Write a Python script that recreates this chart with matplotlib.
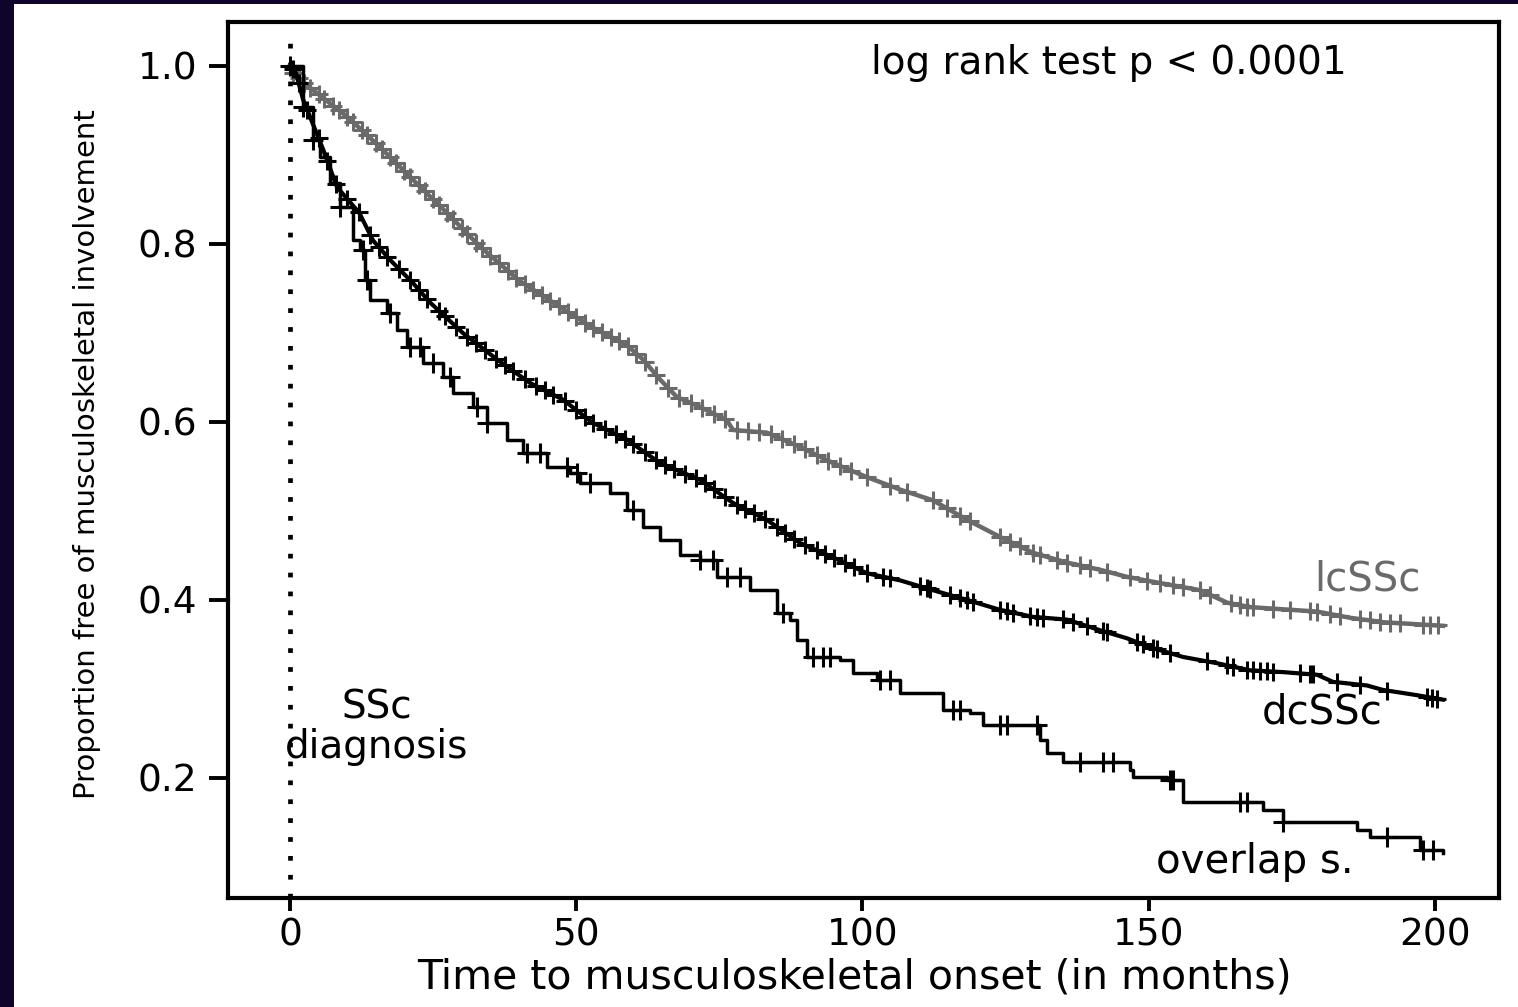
import numpy as np
import matplotlib.pyplot as plt
from matplotlib.patches import Rectangle

# Kaplan-Meier curves (time in months, proportion free)
lc_time = [0, 0.5, 4.0, 10.0, 15.7, 21.5, 27.4, 33.2, 40.0, 47.2, 52.9, 58.9,
           61.7, 64.6, 67.6, 71.6, 76.3, 77.4, 83.3, 89.1, 94.8, 100.8, 106.6, 112.3,
           118.3, 124.0, 129.8, 135.7, 141.5, 146.2, 152.0, 159.0, 163.7, 167.7,
           179.4, 185.2, 191.0, 201.4]
lc_surv = [1.0, 0.992, 0.973, 0.943, 0.909, 0.872, 0.835, 0.797, 0.759, 0.729,
           0.706, 0.686, 0.670, 0.648, 0.628, 0.617, 0.602, 0.591, 0.588, 0.572, 0.554,
           0.538, 0.524, 0.512, 0.490, 0.471, 0.453, 0.442, 0.434, 0.426, 0.419, 0.411,
           0.397, 0.392, 0.387, 0.380, 0.375, 0.371]
lc_cens = [0.5, 1.5, 2.5, 3.5, 5, 6, 7.5, 8.5, 10, 11, 12.5, 13.5, 15, 16, 17.5, 18.5,
           20, 21, 22.5, 23.5, 25, 26, 27.5, 28.5, 30, 31, 32.5, 33.5, 35, 36.5, 38,
           39.5, 41, 42.5, 44, 45.5, 47, 48.5, 50, 51.5, 53, 54.5, 56, 57.5, 59, 60.5,
           62, 64, 66, 68, 70, 72, 74, 76, 78, 80, 82, 84, 86, 88, 90, 92, 94, 96, 98,
           100.8, 104.8, 107.8, 112.3, 114.8, 117.0, 118.8, 124.0, 125.8, 127.5, 129.8,
           131.0, 134.0, 135.7, 138.0, 139.7, 142.7, 146.7, 149.7, 152.0, 154.2, 156.0,
           159.0, 160.7, 164.3, 165.9, 167.2, 168.2, 171.7, 174.7, 178.2, 179.4, 181.7,
           183.4, 186.9, 188.6, 190.4, 192.1, 193.9, 197.9, 199.1, 200.5]

dc_time = [0, 1.0, 2.3, 5.8, 8.2, 12.1, 14.5, 17.5, 21.5, 24.5, 30.2, 36.2, 41.9, 47.7,
           52.9, 58.9, 64.6, 71.6, 77.4, 83.3, 89.1, 94.8, 100.8, 106.6, 112.3, 118.3,
           124.0, 129.8, 135.7, 141.5, 146.2, 150.2, 156.0, 161.9, 167.7, 173.4, 179.4,
           182.2, 188.1, 190.9, 196.9, 201.4]
dc_surv = [1.0, 0.993, 0.962, 0.906, 0.864, 0.835, 0.804, 0.782, 0.756, 0.734, 0.700,
           0.670, 0.644, 0.625, 0.599, 0.580, 0.554, 0.535, 0.509, 0.490, 0.464, 0.448,
           0.430, 0.422, 0.411, 0.400, 0.389, 0.381, 0.378, 0.366, 0.357, 0.347, 0.336,
           0.329, 0.321, 0.319, 0.316, 0.308, 0.304, 0.299, 0.293, 0.288]
dc_cens = [0.5, 1.5, 3, 5, 6.5, 8, 10, 12, 14, 15.5, 17, 19, 21, 22.5, 24, 26, 27, 29,
           31, 32.5, 34, 36, 37.5, 39, 41, 43, 44.5, 46, 48, 50, 51.5, 53, 55, 57, 58.5,
           60, 62, 64, 65.5, 67, 69, 71, 72.5, 74, 76, 78, 79.5, 81, 83, 85, 86.5, 88,
           90, 92, 93.5, 95, 97, 98.5, 100.8, 103.6, 104.8, 110.0, 111.3, 111.8, 115.3,
           117.0, 118.3, 119.3, 124.0, 125.2, 126.3, 129.3, 130.5, 131.5, 135.0, 136.8,
           139.2, 142.0, 142.7, 147.9, 149.0, 150.7, 151.4, 153.7, 160.2, 163.7, 164.7,
           167.2, 168.2, 169.4, 170.7, 171.7, 176.4, 178.2, 178.7, 182.9, 186.9, 191.6,
           198.6, 199.5, 200.3]

ov_time = [0, 2.3, 4.0, 5.2, 7.0, 8.7, 11.0, 12.2, 13.1, 14.0, 16.9, 18.7, 20.4, 23.2,
           26.7, 28.5, 32.0, 34.4, 37.9, 40.7, 44.9, 48.9, 50.7, 55.9, 58.9, 61.7, 64.6,
           68.1, 71.6, 74.6, 80.3, 85.1, 87.3, 88.6, 90.3, 96.1, 98.3, 102.5, 106.6,
           114.1, 118.8, 121.0, 131.0, 132.2, 135.0, 146.7, 147.2, 153.2, 156.0, 170.0,
           173.4, 186.4, 188.6, 197.4, 201.4]
ov_surv = [1.0, 0.954, 0.917, 0.898, 0.869, 0.842, 0.804, 0.793, 0.760, 0.737, 0.722,
           0.703, 0.684, 0.666, 0.651, 0.633, 0.617, 0.599, 0.580, 0.565, 0.549, 0.543,
           0.531, 0.520, 0.501, 0.482, 0.467, 0.451, 0.445, 0.426, 0.411, 0.385, 0.378,
           0.355, 0.336, 0.333, 0.318, 0.310, 0.296, 0.276, 0.273, 0.260, 0.243, 0.228,
           0.218, 0.209, 0.201, 0.198, 0.173, 0.164, 0.151, 0.142, 0.134, 0.119, 0.116]
ov_cens = [0, 2.3, 4.0, 8.7, 12.7, 13.4, 17.5, 20.9, 22.7, 25.0, 27.9, 32.7, 34.4, 41.4,
           43.7, 48.4, 50.2, 52.4, 59.9, 71.6, 73.9, 76.3, 78.6, 86.1, 91.4, 93.1, 94.3,
           103.1, 104.8, 115.8, 117.0, 124.0, 125.2, 130.5, 138.0, 142.0, 143.8, 153.7,
           154.2, 165.9, 167.2, 173.4, 191.6, 197.9, 199.7]

W, H = 1518, 1007
fig = plt.figure(figsize=(W / 100, H / 100), dpi=100, facecolor='#10042a')
fig.patches.append(Rectangle((14 / W, 0), 1, 1 - 4 / H, transform=fig.transFigure,
                             facecolor='white', edgecolor='none', zorder=-10))

ax = fig.add_axes([228 / W, 1 - 897.7 / H, 1271 / W, 875.7 / H])
ax.set_zorder(1)
ax.set_xlim(-10.83, 211.2)
ax.set_ylim(0.0655, 1.0494)

gray = '#6a6a6a'
# lcSSc
ax.plot(lc_time, lc_surv, color=gray, lw=3.2, zorder=2)
ax.plot(lc_cens, np.interp(lc_cens, lc_time, lc_surv), ls='none', marker='+',
        ms=13, mew=2.2, color=gray, zorder=2)
# dcSSc
ax.plot(dc_time, dc_surv, color='black', lw=3.0, zorder=3)
ax.plot(dc_cens, np.interp(dc_cens, dc_time, dc_surv), ls='none', marker='+',
        ms=13, mew=2.2, color='black', zorder=3)
# overlap syndrome (step function)
ov_t = np.array(ov_time)
ov_s = np.array(ov_surv)
ax.plot(ov_t, ov_s, drawstyle='steps-post', color='black', lw=2.5, zorder=3)
idx = np.searchsorted(ov_t, ov_cens, side='right') - 1
ax.plot(ov_cens, ov_s[idx], ls='none', marker='+', ms=14, mew=2.2,
        color='black', zorder=3)

# SSc diagnosis line
ax.axvline(0, ymin=0, ymax=0.987, color='black', lw=3.4, ls=(0, (1.0, 3.0)), zorder=1)

for s in ax.spines.values():
    s.set_linewidth(3.0)

ax.set_xticks([0, 50, 100, 150, 200])
ax.set_yticks([0.2, 0.4, 0.6, 0.8, 1.0])
ax.set_yticklabels(['0.2', '0.4', '0.6', '0.8', '1.0'])
ax.tick_params(axis='y', length=14, width=2.8, pad=8, labelsize=27)
ax.tick_params(axis='x', length=9.5, width=2.8, pad=5, labelsize=27)

ax.text(143.1, 1.003, 'log rank test p < 0.0001', fontsize=28, ha='center', va='center')
ax.text(188.3, 0.4225, 'lcSSc', fontsize=29, ha='center', va='center', color=gray)
ax.text(180.3, 0.274, 'dcSSc', fontsize=29, ha='center', va='center')
ax.text(168.6, 0.106, 'overlap s.', fontsize=29, ha='center', va='center')
ax.text(15.2, 0.257, 'SSc\ndiagnosis', fontsize=28, ha='center', va='center',
        linespacing=1.05)

fig.text(854 / W, 1 - 978 / H, 'Time to musculoskeletal onset (in months)',
         fontsize=29.5, ha='center', va='center')
fig.text(87 / W, 1 - 454 / H, 'Proportion free of musculoskeletal involvement',
         fontsize=21, rotation=90, ha='center', va='center')

fig.savefig('out.png', dpi=100, facecolor=fig.get_facecolor())
